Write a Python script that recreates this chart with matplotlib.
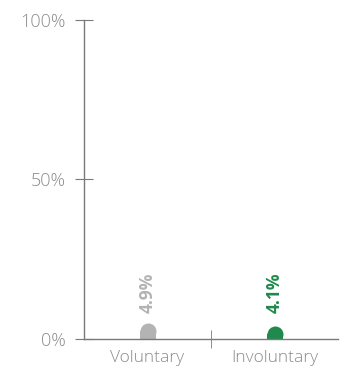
import matplotlib.pyplot as plt

categories = ["Voluntary", "Involuntary"]
values = [4.9, 4.1]
colors = ["#b3b3b3", "#1f8a4c"]
y_ticks = [0, 50, 100]
y_tick_labels = ["0%", "50%", "100%"]

plt.rcParams['font.family'] = ['Open Sans', 'DejaVu Sans']

fig = plt.figure(figsize=(3.5, 3.74), dpi=100)
ax = fig.add_axes([0.24, 0.0936, 0.726, 0.853])

axis_grey = "#7a7a7a"
text_grey = "#8c8c8c"

bar_px = 16
ax_h_px = 0.853 * 374
r = (bar_px / 2) / ax_h_px * 100  # cap radius in data units
width = bar_px / (0.726 * 350) * 2

xs = list(range(len(categories)))
for x, v, c in zip(xs, values, colors):
    ax.bar(x, v - r, width=width, color=c, linewidth=0)
    ax.plot(x, v - r, marker='o', markersize=bar_px * 0.72, color=c,
            markeredgewidth=0, clip_on=True)

label_y = max(values) + 3.3
for x, v, c in zip(xs, values, colors):
    ax.text(x, label_y, f"{v}%", rotation=90, ha='center', va='bottom',
            color=c, fontsize=12.5, fontweight='bold')

ax.set_xlim(-0.5, 1.5)
ax.set_ylim(0, 100)
ax.set_yticks(y_ticks)
ax.set_yticklabels(y_tick_labels)
ax.set_xticks(xs)
ax.set_xticklabels(categories)
ax.set_xticks([0.5], minor=True)

for s in ["top", "right"]:
    ax.spines[s].set_visible(False)
for s in ["left", "bottom"]:
    ax.spines[s].set_color(axis_grey)
    ax.spines[s].set_linewidth(1)

ax.tick_params(axis='y', direction='inout', length=13, color=axis_grey,
               labelcolor=text_grey, labelsize=13, pad=7)
ax.tick_params(axis='x', which='major', length=0, labelcolor=text_grey,
               labelsize=12.5, pad=8)
ax.tick_params(axis='x', which='minor', direction='inout', length=13,
               color=axis_grey)
for lab in ax.get_yticklabels() + ax.get_xticklabels():
    lab.set_fontweight('light')

fig.savefig("out.png", dpi=100)
